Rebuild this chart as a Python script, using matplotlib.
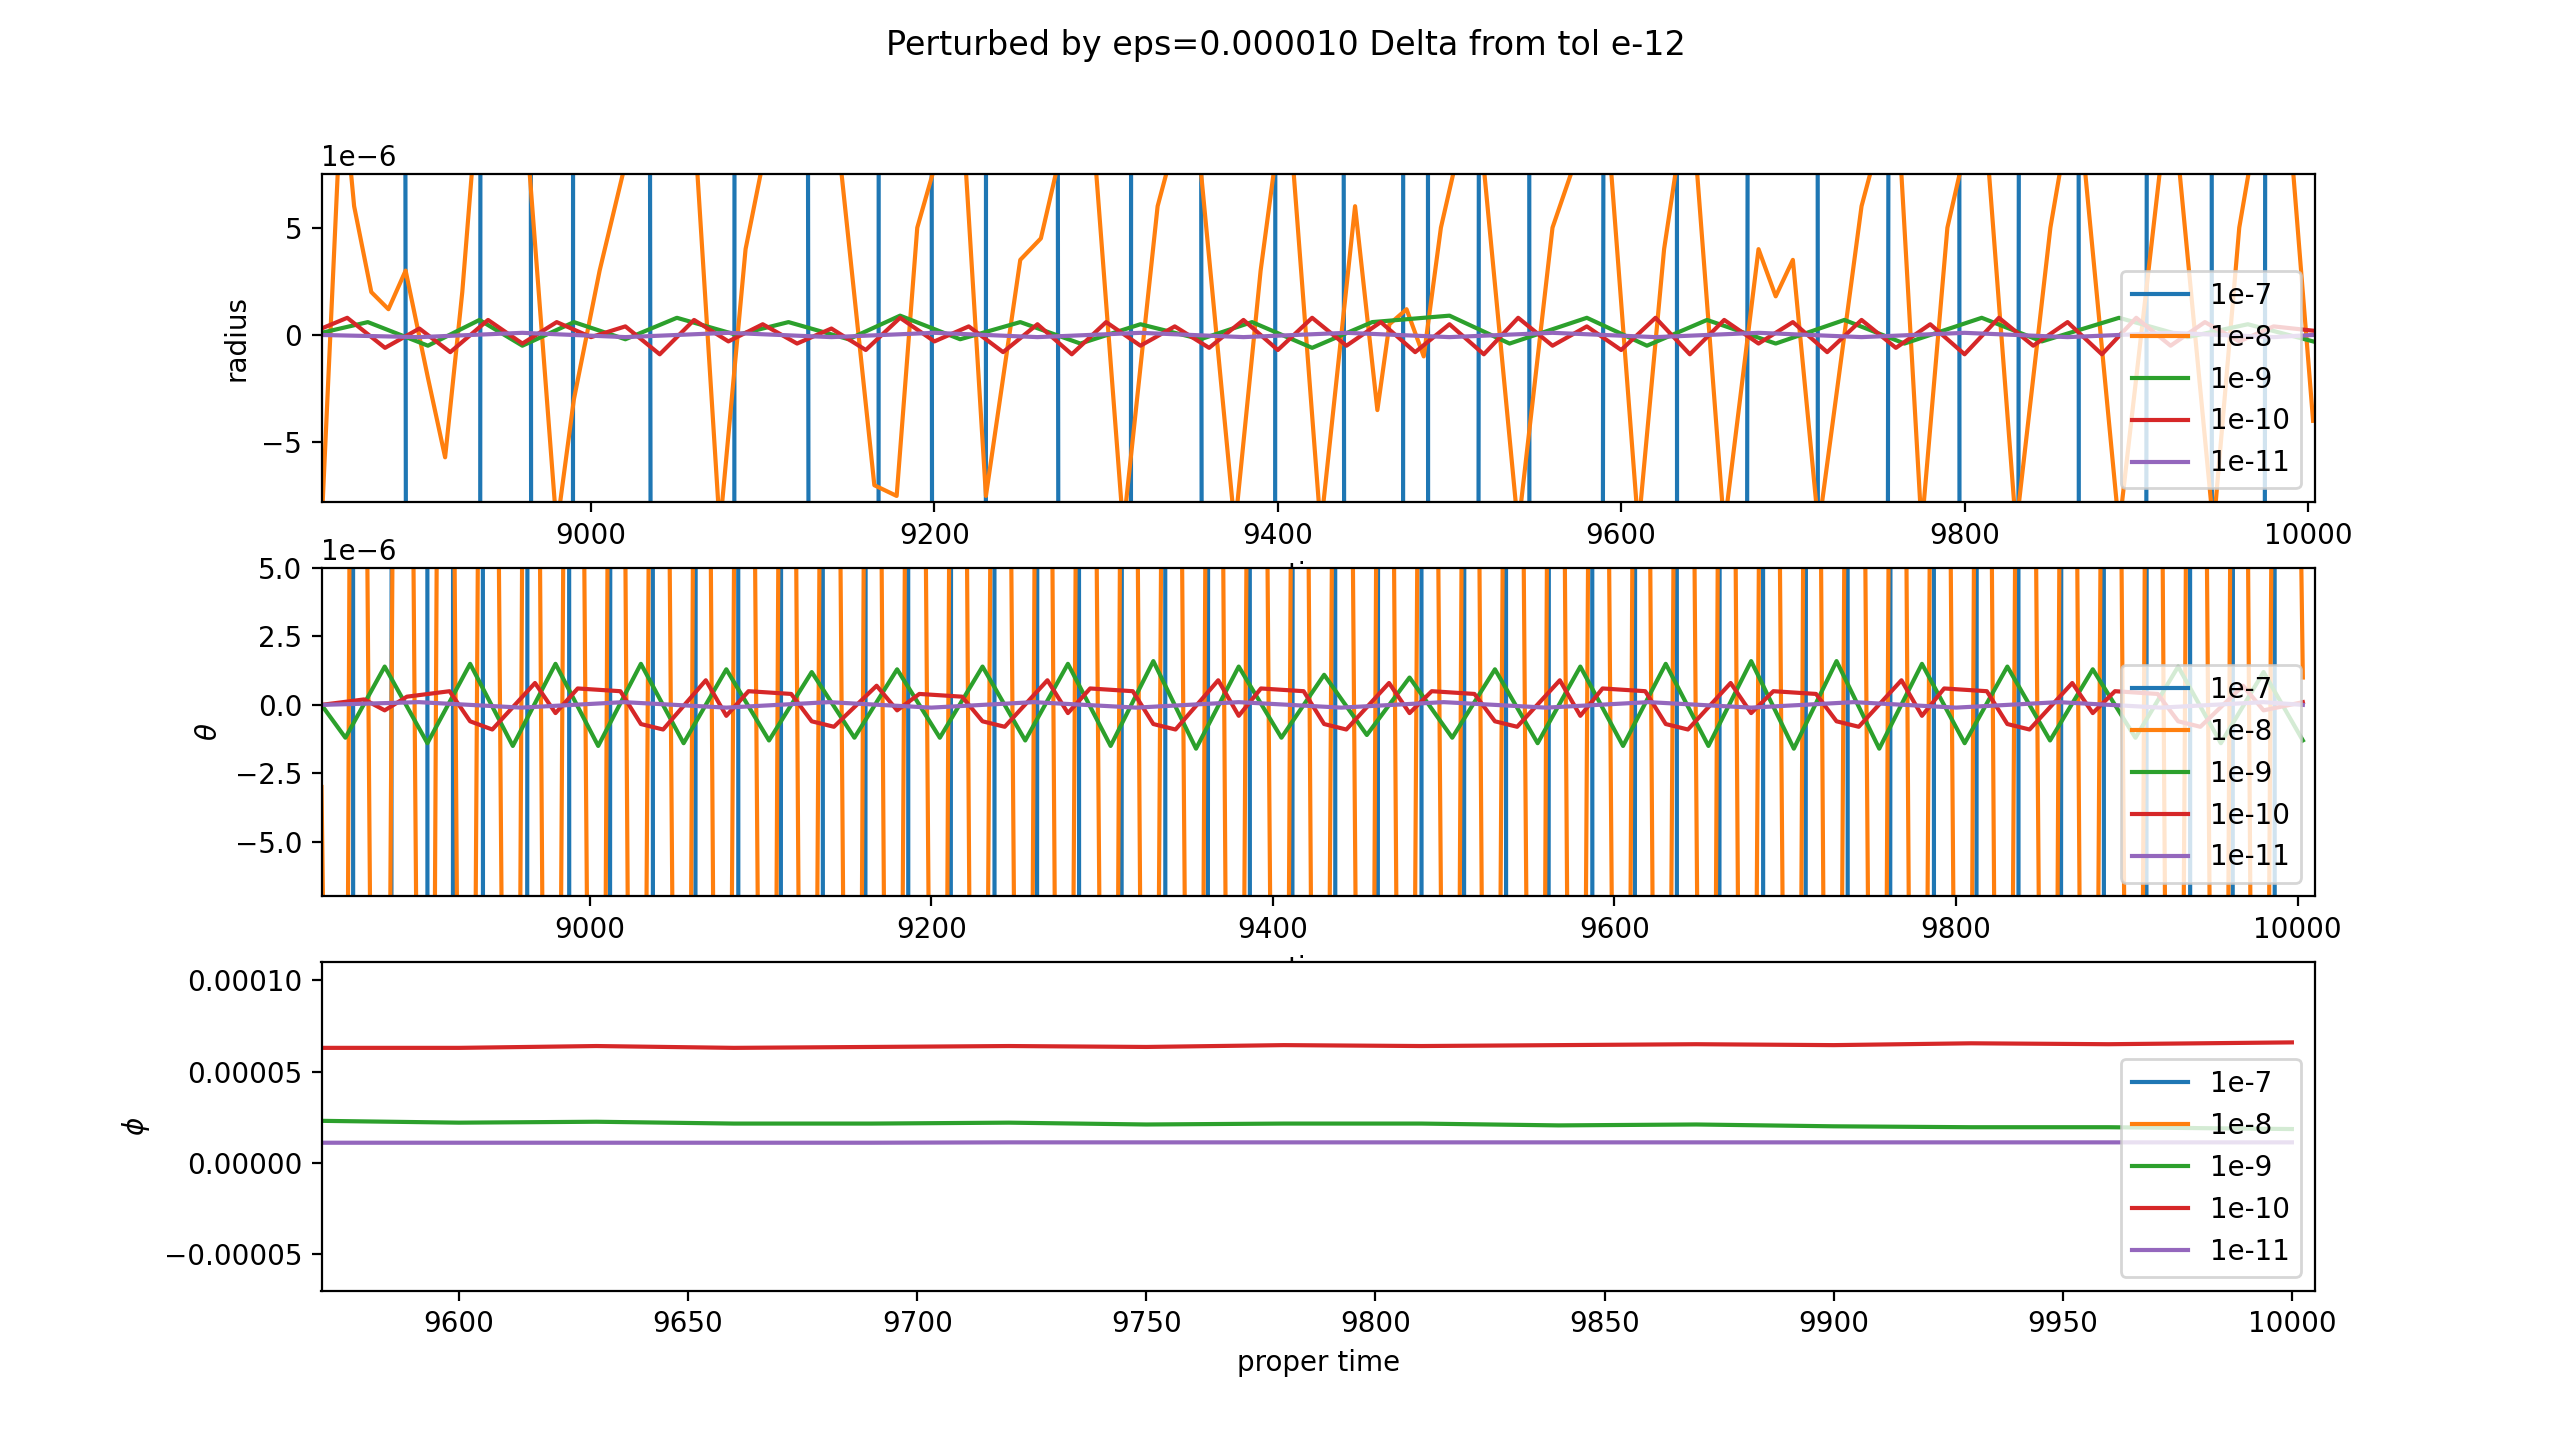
import numpy as np
import matplotlib.pyplot as plt
import matplotlib.ticker as ticker

labels = ['1e-7', '1e-8', '1e-9', '1e-10', '1e-11']

# ---- radius panel (values in 1e-6) ----
r_blue_t = [8860, 8924, 8947, 8983, 8996, 9073, 9094, 9159, 9176, 9221, 9239, 9305, 9324,
            9387, 9410, 9467, 9479, 9496, 9538, 9555, 9624, 9641, 9706, 9723, 9788, 9806,
            9857, 9876, 9936, 9952, 9998]
r_blue_v = [2000, -2000] * 15 + [2000]
r_or_t = [8843, 8855, 8862, 8872, 8882, 8892, 8905, 8915, 8925, 8935, 8960, 8980, 8990,
          9005, 9020, 9040, 9060, 9075, 9090, 9110, 9140, 9165, 9178, 9190, 9215, 9230,
          9240, 9250, 9262, 9275, 9290, 9310, 9330, 9350, 9375, 9390, 9405, 9425, 9445,
          9458, 9465, 9475, 9485, 9495, 9515, 9540, 9560, 9590, 9610, 9625, 9640, 9660,
          9680, 9690, 9700, 9715, 9740, 9760, 9775, 9790, 9810, 9830, 9850, 9865, 9890,
          9920, 9945, 9960, 9975, 9990, 10003]
r_or_v = [-9, 12, 6, 2, 1.2, 3.0, -2, -5.7, 2, 12, 12, -9, -3, 3, 8, 12, 10, -9, 4, 12,
          12, -7, -7.5, 5, 12, -7.5, -2, 3.5, 4.5, 9, 12, -9, 6, 12, -9, 3, 12, -9, 6,
          -3.5, 0.5, 1.2, -1, 5, 12, -9, 5, 12, -9, 4, 12, -9, 4, 1.8, 3.5, -9, 6, 12,
          -9, 5, 12, -9, 5, 12, -9, 12, -9, 5, 12, 9, -4]
r_gr_t = [8843, 8870, 8905, 8935, 8960, 8990, 9020, 9050, 9085, 9115, 9150, 9180, 9215,
          9250, 9285, 9320, 9355, 9385, 9420, 9455, 9500, 9535, 9580, 9615, 9650, 9690,
          9730, 9765, 9810, 9845, 9890, 9930, 9965, 10003]
r_gr_v = [0.1, 0.6, -0.5, 0.7, -0.5, 0.6, -0.2, 0.8, 0.0, 0.6, -0.2, 0.9, -0.2, 0.6,
          -0.4, 0.5, -0.2, 0.6, -0.6, 0.6, 0.9, -0.4, 0.8, -0.5, 0.7, -0.4, 0.7, -0.4,
          0.8, -0.3, 0.8, -0.1, 0.5, -0.3]
r_rd_t = [8843, 8858, 8880, 8900, 8918, 8940, 8960, 8980, 9000, 9020, 9040, 9060, 9080,
          9100, 9120, 9140, 9160, 9180, 9200, 9220, 9240, 9260, 9280, 9300, 9320, 9340,
          9360, 9380, 9400, 9420, 9440, 9460, 9480, 9500, 9520, 9540, 9560, 9580, 9600,
          9620, 9640, 9660, 9680, 9700, 9720, 9740, 9760, 9780, 9800, 9820, 9840, 9860,
          9880, 9900, 9920, 9940, 9960, 9980, 10003]
r_rd_v = [0.3, 0.8, -0.6, 0.3, -0.8, 0.7, -0.4, 0.6, -0.1, 0.4, -0.9, 0.7, -0.3, 0.5,
          -0.4, 0.3, -0.7, 0.8, -0.3, 0.4, -0.8, 0.5, -0.9, 0.6, -0.5, 0.4, -0.6, 0.7,
          -0.7, 0.8, -0.5, 0.6, -0.8, 0.5, -0.9, 0.8, -0.5, 0.4, -0.7, 0.8, -0.9, 0.7,
          -0.4, 0.6, -0.8, 0.7, -0.6, 0.5, -0.9, 0.8, -0.5, 0.6, -0.9, 0.8, -0.5, 0.6,
          -0.3, 0.4, 0.2]
r_pu_t = [8843, 8900, 8960, 9020, 9080, 9140, 9200, 9260, 9320, 9380, 9440, 9500, 9560,
          9620, 9680, 9740, 9800, 9860, 9920, 9980, 10003]
r_pu_v = [0.0, -0.1, 0.1, -0.1, 0.1, -0.1, 0.1, -0.1, 0.1, -0.1, 0.1, -0.1, 0.1, -0.1,
          0.1, -0.1, 0.1, -0.1, 0.1, -0.1, 0.0]

# ---- theta panel (values in 1e-6) ----
th_blue_t = [8855, 8868, 8900, 8910, 8930, 8945, 8982, 8994, 9030, 9044, 9080, 9094,
             9130, 9143, 9180, 9193, 9230, 9244, 9280, 9293, 9330, 9344, 9380, 9393,
             9430, 9443, 9480, 9494, 9530, 9543, 9580, 9594, 9630, 9643, 9680, 9694,
             9730, 9743, 9780, 9794, 9830, 9843, 9880, 9893, 9930, 9944, 9980, 9993]
th_blue_v = [2000, -2000] * 24
th_or_t = [8843, 8855, 8863, 8878, 8890, 8905, 8915, 8928, 8940, 8955, 8965, 8978, 8990,
           9005, 9015, 9028, 9040, 9055, 9065, 9078, 9090, 9105, 9115, 9128, 9140,
           9155, 9165, 9178, 9190, 9205, 9215, 9228, 9240, 9255, 9265, 9278, 9290,
           9305, 9315, 9328, 9340, 9355, 9365, 9378, 9390, 9405, 9415, 9428, 9440,
           9455, 9465, 9478, 9490, 9505, 9515, 9528, 9540, 9555, 9565, 9578, 9590,
           9605, 9615, 9628, 9640, 9655, 9665, 9678, 9690, 9705, 9715, 9728, 9740,
           9755, 9765, 9778, 9790, 9805, 9815, 9828, 9840, 9855, 9865, 9878, 9890,
           9905, 9915, 9928, 9940, 9955, 9965, 9978, 9990, 10003]
th_or_v = [-3] + [-60, 60] * 46 + [1]
th_gr_t = [8843, 8857, 8880, 8905, 8930, 8955, 8980, 9005, 9030, 9055, 9080, 9105, 9130,
           9155, 9180, 9205, 9230, 9255, 9280, 9305, 9330, 9355, 9380, 9405, 9430, 9455,
           9480, 9505, 9530, 9555, 9580, 9605, 9630, 9655, 9680, 9705, 9730, 9755, 9780,
           9805, 9830, 9855, 9880, 9905, 9930, 9955, 9980, 10003]
th_gr_v = [0.0, -1.2, 1.4, -1.4, 1.5, -1.5, 1.5, -1.5, 1.5, -1.4, 1.3, -1.3, 1.2, -1.2,
           1.3, -1.2, 1.4, -1.3, 1.5, -1.5, 1.6, -1.6, 1.4, -1.2, 1.1, -1.1, 1.0, -1.2,
           1.3, -1.4, 1.4, -1.5, 1.5, -1.5, 1.6, -1.6, 1.6, -1.6, 1.5, -1.4, 1.4, -1.3,
           1.3, -1.2, 1.4, -1.4, 1.2, -1.3]
th_rd_t = [8843, 8868, 8880, 8893, 8918, 8930, 8943, 8968, 8980, 8993, 9018, 9030, 9043,
           9068, 9080, 9093, 9118, 9130, 9143, 9168, 9180, 9193, 9218, 9230, 9243, 9268,
           9280, 9293, 9318, 9330, 9343, 9368, 9380, 9393, 9418, 9430, 9443, 9468, 9480,
           9493, 9518, 9530, 9543, 9568, 9580, 9593, 9618, 9630, 9643, 9668, 9680, 9693,
           9718, 9730, 9743, 9768, 9780, 9793, 9818, 9830, 9843, 9868, 9880, 9893, 9918,
           9930, 9943, 9968, 9980, 10003]
th_rd_v = [0.0, 0.2, -0.2, 0.3, 0.5, -0.6, -0.9, 0.8, -0.3, 0.6, 0.5, -0.7, -0.9, 0.9,
           -0.4, 0.5, 0.4, -0.6, -0.8, 0.7, -0.2, 0.4, 0.3, -0.6, -0.8, 0.9, -0.3, 0.6,
           0.5, -0.7, -0.9, 0.9, -0.4, 0.6, 0.5, -0.7, -0.9, 0.8, -0.3, 0.5, 0.4, -0.6,
           -0.8, 0.9, -0.4, 0.6, 0.5, -0.7, -0.9, 0.8, -0.3, 0.5, 0.4, -0.6, -0.8, 0.9,
           -0.4, 0.6, 0.5, -0.7, -0.9, 0.8, -0.3, 0.5, 0.4, -0.6, -0.8, 0.7, -0.2, 0.1]
th_pu_t = r_pu_t
th_pu_v = [0.0, 0.1, -0.1, 0.1, -0.1, 0.1, -0.1, 0.1, -0.1, 0.1, -0.1, 0.1, -0.1, 0.1,
           -0.1, 0.1, -0.1, 0.1, -0.1, 0.1, 0.0]

# ---- phi panel ----
ph_t = [9570, 9600, 9630, 9660, 9690, 9720, 9750, 9780, 9810, 9840, 9870, 9900, 9930,
        9960, 10000]
ph_blue = [5e-4] * 15
ph_orange = [-5e-4] * 15
ph_green = [2.30e-5, 2.20e-5, 2.25e-5, 2.15e-5, 2.15e-5, 2.20e-5, 2.10e-5, 2.15e-5,
            2.15e-5, 2.05e-5, 2.10e-5, 2.00e-5, 1.95e-5, 1.95e-5, 1.85e-5]
ph_red = [6.30e-5, 6.30e-5, 6.40e-5, 6.30e-5, 6.35e-5, 6.40e-5, 6.35e-5, 6.45e-5,
          6.40e-5, 6.45e-5, 6.50e-5, 6.45e-5, 6.55e-5, 6.50e-5, 6.60e-5]
ph_purple = [1.10e-5, 1.10e-5, 1.10e-5, 1.10e-5, 1.10e-5, 1.12e-5, 1.12e-5, 1.12e-5,
             1.12e-5, 1.12e-5, 1.12e-5, 1.12e-5, 1.12e-5, 1.12e-5, 1.12e-5]

fig, axs = plt.subplots(3, 1, figsize=(12.86, 7.25), dpi=200)
fig.suptitle('Perturbed by eps=0.000010 Delta from tol e-12')

s = 1e-6
ax = axs[0]
for (t, v), lab in zip([(r_blue_t, r_blue_v), (r_or_t, r_or_v), (r_gr_t, r_gr_v),
                        (r_rd_t, r_rd_v), (r_pu_t, r_pu_v)], labels):
    ax.plot(t, np.array(v) * s, label=lab)
ax.set_xlim(8843, 10004)
ax.set_ylim(-7.8e-6, 7.5e-6)
ax.yaxis.set_major_locator(ticker.MultipleLocator(5e-6))
ax.set_ylabel('radius')
ax.set_xlabel('time')
ax.legend(loc='lower right')

ax = axs[1]
for (t, v), lab in zip([(th_blue_t, th_blue_v), (th_or_t, th_or_v), (th_gr_t, th_gr_v),
                        (th_rd_t, th_rd_v), (th_pu_t, th_pu_v)], labels):
    ax.plot(t, np.array(v) * s, label=lab)
ax.set_xlim(8843, 10010)
ax.set_ylim(-7e-6, 5e-6)
ax.yaxis.set_major_locator(ticker.MultipleLocator(2.5e-6))
ax.set_ylabel(r'$\theta$')
ax.set_xlabel('time')
ax.legend(loc='lower right')

ax = axs[2]
for v, lab in zip([ph_blue, ph_orange, ph_green, ph_red, ph_purple], labels):
    ax.plot(ph_t, v, label=lab)
ax.set_xlim(9570, 10005)
ax.set_ylim(-7e-5, 1.1e-4)
ax.set_ylabel(r'$\phi$')
ax.set_xlabel('proper time')
ax.legend(loc='lower right')

fig.savefig('out.png')
